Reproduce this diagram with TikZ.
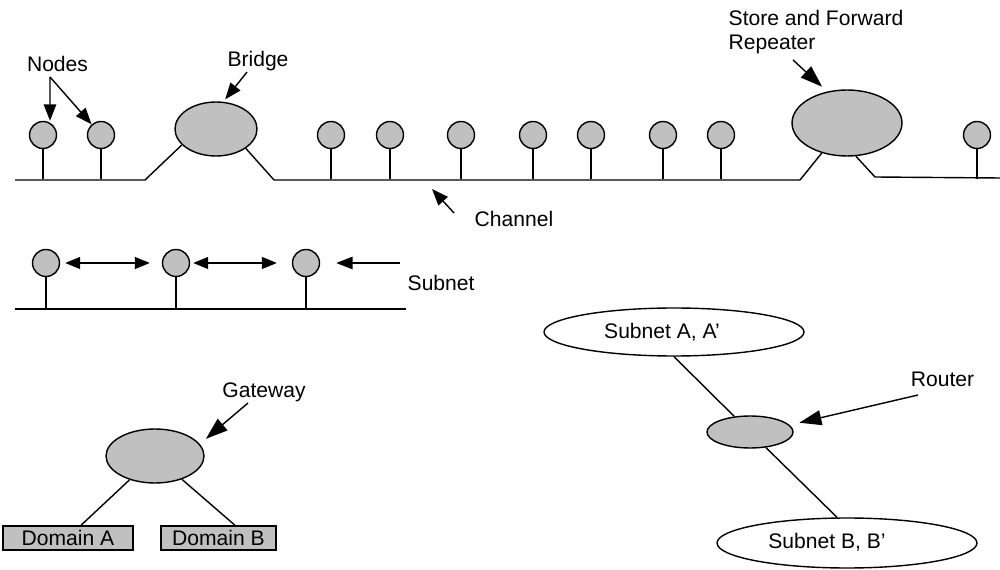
\documentclass[tikz,border=0pt]{standalone}
\usepackage{fontspec}
\setmainfont{Liberation Sans}
\usetikzlibrary{arrows.meta,shapes.geometric}
\definecolor{silver}{HTML}{C0C0C0}

\begin{document}
\begin{tikzpicture}[x=0.02cm,y=-0.02cm,line width=0.8pt,
    font=\fontsize{12}{14.2}\selectfont,
    station/.style={circle,draw,fill=silver,inner sep=0pt,minimum size=0.54cm},
    blob/.style={ellipse,draw,fill=silver,inner sep=0pt},
    domainbox/.style={rectangle,draw,fill=silver,inner sep=0pt,minimum height=0.48cm},
    subnetblob/.style={ellipse,draw,fill=white,inner sep=0pt,minimum width=5.2cm},
    lbl/.style={inner sep=0pt},
    arr/.style={-{Triangle[length=0.33cm,width=0.25cm]}},
    bigarr/.style={-{Triangle[length=0.44cm,width=0.3cm]}},
    dbl/.style={{Triangle[length=0.3cm,width=0.24cm]}-{Triangle[length=0.3cm,width=0.24cm]}}]
    \useasboundingbox (0,0) rectangle (1000,570);
    % channel with bridge and repeater
    \node[blob,minimum width=1.64cm,minimum height=1.08cm] (bridge) at (216,129) {};
    \node[blob,minimum width=2.2cm,minimum height=1.32cm] (rep) at (847,123) {};
    \draw (15,180) -- (145,180) -- (bridge.205);
    \draw (bridge.327) -- (274,180) -- (800,180) -- (rep.230);
    \draw (rep.285) -- (875,177) -- (1000,178);
    \foreach \x [count=\i] in {43,101,331,390,461,533,591,663,721,977} {
        \node[station] (st\i) at (\x,135) {};
        \draw (st\i) -- (st\i |- 0,179);
    }
    \node[lbl,anchor=base] (nodeslbl) at (57.5,72) {Nodes};
    \coordinate (ndapex) at (50,77);
    \draw[arr] (ndapex) -- ([xshift=0.14cm]st1.north);
    \draw[arr] (ndapex) -- (st2);
    \node[lbl,anchor=base] (bridgelbl) at (258,67) {Bridge};
    \coordinate (brtail) at (247,72);
    \draw[arr,shorten >=0.06cm] (brtail) -- (bridge.75);
    \node[lbl,anchor=base west,align=left] (replbl) at (728,50) {Store and Forward\\Repeater};
    \coordinate (reptail) at (793,60);
    \draw[bigarr,shorten >=0.14cm] (reptail) -- (rep.122);
    \node[lbl,anchor=base west] (chlbl) at (474,227) {Channel};
    \coordinate (chtail) at (454,213);
    \coordinate (chtip) at (432,189);
    \draw[arr] (chtail) -- (chtip);
    % subnet
    \draw (15,309) -- (406,309);
    \foreach \x [count=\i] in {46,176,306} {
        \node[station] (sb\i) at (\x,263) {};
        \draw (sb\i) -- (sb\i |- 0,309);
    }
    \draw[dbl,shorten <=0.1cm,shorten >=0.24cm] (sb1) -- (sb2);
    \draw[dbl,shorten <=0.06cm,shorten >=0.3cm] (sb2) -- (sb3);
    \node[lbl,anchor=base west] (subnetlbl) at (407,291) {Subnet};
    \coordinate (subtail) at (400,263);
    \draw[arr,shorten >=0.32cm] (subtail) -- (sb3);
    % gateway
    \node[blob,minimum width=1.96cm,minimum height=1.08cm] (gw) at (155,456) {};
    \node[domainbox,minimum width=2.6cm] (domA) at (68,538) {Domain A};
    \node[domainbox,minimum width=2.3cm] (domB) at (218.5,538) {Domain B};
    \draw (gw) -- ([xshift=0.26cm]domA.north);
    \draw (gw) -- ([xshift=0.33cm]domB.north);
    \node[lbl,anchor=base] (gwlbl) at (264,398) {Gateway};
    \coordinate (gwtail) at (248,403);
    \draw[bigarr,shorten >=0.16cm] (gwtail) -- (gw.15);
    % router
    \node[subnetblob,minimum height=0.96cm] (subA) at (674,332) {};
    \node[lbl] (subAlbl) at (662,332) {Subnet A, A'};
    \node[blob,minimum width=1.72cm,minimum height=0.64cm] (router) at (750,432) {};
    \node[subnetblob,minimum height=1cm] (subB) at (847,543) {};
    \node[lbl] (subBlbl) at (827,542) {Subnet B, B'};
    \draw (subA.south) -- (router);
    \draw (router) -- ([xshift=-0.2cm]subB.north);
    \node[lbl,anchor=base] (rtlbl) at (942.5,387) {Router};
    \coordinate (rttail) at (918,395);
    \draw[bigarr,shorten >=0.2cm] (rttail) -- (router.10);
\end{tikzpicture}
\end{document}
